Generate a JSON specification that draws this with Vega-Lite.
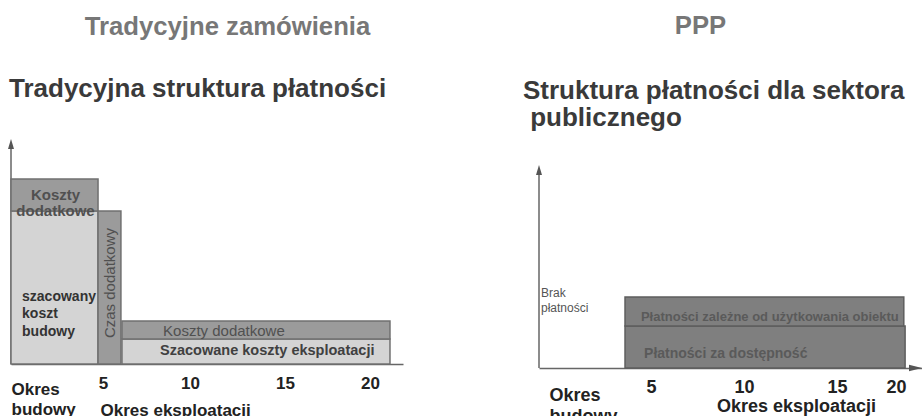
{
  "$schema": "https://vega.github.io/schema/vega-lite/v6.json",
  "background": "white",
  "padding": {"left": 8, "top": 13, "right": 0, "bottom": 0},
  "config": {"font": "Liberation Sans", "view": {"stroke": null}},
  "datasets": {
    "trad": [
      {"x0": 0, "x1": 4.73, "y0": 0, "y1": 69.5, "kind": "szacowane", "part": "szacowany koszt budowy"},
      {"x0": 0, "x1": 4.73, "y0": 69.5, "y1": 84.1, "kind": "dodatkowe", "part": "koszty dodatkowe budowy"},
      {"x0": 4.73, "x1": 6.03, "y0": 0, "y1": 69.5, "kind": "dodatkowe", "part": "czas dodatkowy"},
      {"x0": 6.09, "x1": 21.12, "y0": 0, "y1": 11.4, "kind": "szacowane", "part": "szacowane koszty eksploatacji"},
      {"x0": 6.09, "x1": 21.12, "y0": 11.4, "y1": 19.5, "kind": "dodatkowe", "part": "koszty dodatkowe eksploatacji"}
    ],
    "ppp": [
      {"x0": 3.84, "x1": 20.35, "y0": 0, "y1": 21.2, "part": "Płatności za dostępność"},
      {"x0": 3.84, "x1": 20.3, "y0": 21.2, "y1": 35.9, "part": "Płatności zależne od użytkowania obiektu"}
    ]
  },
  "spacing": 120,
  "hconcat": [
    {
      "title": {"text": "Tradycyjne zamówienia", "anchor": "middle", "fontSize": 25.7, "fontWeight": "bold", "color": "#777777", "dx": 22, "offset": 35.25},
      "vconcat": [
        {
          "title": {"text": "Tradycyjna struktura płatności", "anchor": "start", "fontSize": 26, "fontWeight": "bold", "color": "#3a3a3a", "offset": 37.5, "dx": 1},
          "width": 392,
          "height": 220,
          "encoding": {
            "x": {
              "field": "x0", "type": "quantitative",
              "scale": {"domain": [0, 5, 10, 15, 20, 21.85], "range": [0, 92, 179, 274, 359, 392], "nice": false, "zero": false},
              "axis": {
                "values": [0, 5, 10, 15, 20],
                "labelExpr": "datum.value == 0 ? ['Okres', 'budowy'] : datum.label",
                "labelAlign": {"condition": {"test": "datum.value == 0", "value": "left"}, "value": "center"},
                "labelPadding": {"condition": {"test": "datum.value == 0", "value": 17}, "value": 11},
                "labelFontSize": 17, "labelFontWeight": "bold", "labelColor": "#222222", "labelLineHeight": 20,
                "labelOverlap": false, "labelFlush": false, "labelBound": false,
                "ticks": false, "grid": false, "domainColor": "#666666", "domainWidth": 1.5,
                "title": "Okres eksploatacji", "titleFontSize": 17, "titleFontWeight": "bold", "titleColor": "#222222",
                "titleAlign": "left", "titleX": 89, "titleY": 51, "titleBaseline": "alphabetic"
              }
            },
            "y": {
              "field": "y0", "type": "quantitative",
              "scale": {"domain": [0, 100], "nice": false, "zero": false},
              "axis": null
            }
          },
          "layer": [
            {
              "data": {"values": [{"x0": 0, "y0": 0, "y1": 100}]},
              "mark": {"type": "rule", "color": "#666666", "strokeWidth": 1.5},
              "encoding": {"y2": {"field": "y1"}}
            },
            {
              "data": {"name": "trad"},
              "mark": {"type": "rect", "stroke": "#707070", "strokeWidth": 1.5},
              "encoding": {
                "x2": {"field": "x1"},
                "y2": {"field": "y1"},
                "fill": {"field": "kind", "type": "nominal", "scale": {"domain": ["szacowane", "dodatkowe"], "range": ["#d4d4d4", "#9b9b9b"]}, "legend": null}
              }
            },
            {
              "data": {"values": [{"x0": 2.42, "y0": 76.8, "label": "Koszty\ndodatkowe"}]},
              "mark": {"type": "text", "lineBreak": "\n", "fontSize": 15, "fontWeight": "bold", "color": "#505050", "lineHeight": 16, "align": "center", "baseline": "middle"},
              "encoding": {"text": {"field": "label", "type": "nominal"}}
            },
            {
              "data": {"values": [{"x0": 0.6, "y0": 30.5, "label": "szacowany\nkoszt\nbudowy"}]},
              "mark": {"type": "text", "lineBreak": "\n", "fontSize": 14, "fontWeight": "bold", "color": "#333333", "lineHeight": 17.5, "align": "left", "baseline": "middle"},
              "encoding": {"text": {"field": "label", "type": "nominal"}}
            },
            {
              "data": {"values": [{"x0": 5.4, "y0": 36.8, "label": "Czas dodatkowy"}]},
              "mark": {"type": "text", "fontSize": 15, "color": "#505050", "angle": 270, "align": "center", "baseline": "middle"},
              "encoding": {"text": {"field": "label", "type": "nominal"}}
            },
            {
              "data": {"values": [{"x0": 8.45, "y0": 12.7, "label": "Koszty dodatkowe"}]},
              "mark": {"type": "text", "fontSize": 15, "color": "#505050", "align": "left", "baseline": "alphabetic"},
              "encoding": {"text": {"field": "label", "type": "nominal"}}
            },
            {
              "data": {"values": [{"x0": 8.28, "y0": 5.9, "label": "Szacowane koszty eksploatacji"}]},
              "mark": {"type": "text", "fontSize": 14.5, "fontWeight": "bold", "color": "#404040", "align": "left", "baseline": "middle"},
              "encoding": {"text": {"field": "label", "type": "nominal"}}
            },
            {
              "data": {"values": [{"x0": 0, "y0": 100}]},
              "mark": {"type": "point", "shape": "M0,-1L0.6,1L-0.6,1Z", "filled": true, "size": 100, "color": "#555555", "opacity": 1}
            }
          ]
        }
      ]
    },
    {
      "title": {"text": "PPP", "anchor": "middle", "fontSize": 25.7, "fontWeight": "bold", "color": "#777777", "dx": -22, "offset": 38.25},
      "vconcat": [
        {
          "title": {"text": ["Struktura płatności dla sektora", "\u200b\u00a0publicznego"], "anchor": "start", "fontSize": 26, "fontWeight": "bold", "color": "#3a3a3a", "lineHeight": 27, "offset": 13, "dx": -13},
          "width": 383,
          "height": 224,
          "encoding": {
            "x": {
              "field": "x0", "type": "quantitative",
              "scale": {"domain": [0, 5, 15, 20, 21], "range": [0, 112, 298, 357, 383], "nice": false, "zero": false},
              "axis": {
                "values": [0, 5, 10, 15, 20],
                "labelExpr": "datum.value == 0 ? ['Okres', 'budowy'] : datum.label",
                "labelAlign": {"condition": {"test": "datum.value == 0", "value": "left"}, "value": "center"},
                "labelOffset": {"condition": {"test": "datum.value == 0", "value": 10}, "value": 0},
                "labelPadding": {"condition": {"test": "datum.value == 0", "value": 18}, "value": 10},
                "labelFontSize": 18, "labelFontWeight": "bold", "labelColor": "#222222", "labelLineHeight": 21,
                "labelOverlap": false, "labelFlush": false, "labelBound": false,
                "ticks": false, "grid": false, "domainColor": "#666666", "domainWidth": 1.5,
                "title": "Okres eksploatacji", "titleFontSize": 18, "titleFontWeight": "bold", "titleColor": "#222222",
                "titleAlign": "center", "titleX": 257, "titleY": 43, "titleBaseline": "alphabetic"
              }
            },
            "y": {
              "field": "y0", "type": "quantitative",
              "scale": {"domain": [0, 113.13], "nice": false, "zero": false},
              "axis": null
            }
          },
          "layer": [
            {
              "data": {"values": [{"x0": 0, "y0": 0, "y1": 100}]},
              "mark": {"type": "rule", "color": "#666666", "strokeWidth": 1.5},
              "encoding": {"y2": {"field": "y1"}}
            },
            {
              "data": {"name": "ppp"},
              "mark": {"type": "rect", "fill": "#7f7f7f", "stroke": "#5e5e5e", "strokeWidth": 1.5},
              "encoding": {"x2": {"field": "x1"}, "y2": {"field": "y1"}}
            },
            {
              "data": {"values": [{"x0": 4.55, "y0": 25.8, "label": "Płatności zależne od użytkowania obiektu"}]},
              "mark": {"type": "text", "fontSize": 13, "fontWeight": "bold", "color": "#5a5a5a", "align": "left", "baseline": "middle"},
              "encoding": {"text": {"field": "label", "type": "nominal"}}
            },
            {
              "data": {"values": [{"x0": 4.69, "y0": 7.1, "label": "Płatności za dostępność"}]},
              "mark": {"type": "text", "fontSize": 14, "fontWeight": "bold", "color": "#5a5a5a", "align": "left", "baseline": "middle"},
              "encoding": {"text": {"field": "label", "type": "nominal"}}
            },
            {
              "data": {"values": [{"x0": 0.09, "y0": 38.1, "label": "Brak\npłatności"}]},
              "mark": {"type": "text", "lineBreak": "\n", "fontSize": 12, "color": "#555555", "lineHeight": 15, "align": "left", "baseline": "middle"},
              "encoding": {"text": {"field": "label", "type": "nominal"}}
            },
            {
              "data": {"values": [{"x0": 0, "y0": 100}]},
              "mark": {"type": "point", "shape": "M0,-1L0.6,1L-0.6,1Z", "filled": true, "size": 100, "color": "#555555", "opacity": 1}
            },
            {
              "data": {"values": [{"x0": 20.75, "y0": 0}]},
              "mark": {"type": "point", "shape": "M1,0L-1,-0.5L-1,0.5Z", "filled": true, "size": 169, "color": "#555555", "opacity": 1}
            }
          ]
        }
      ]
    }
  ]
}
